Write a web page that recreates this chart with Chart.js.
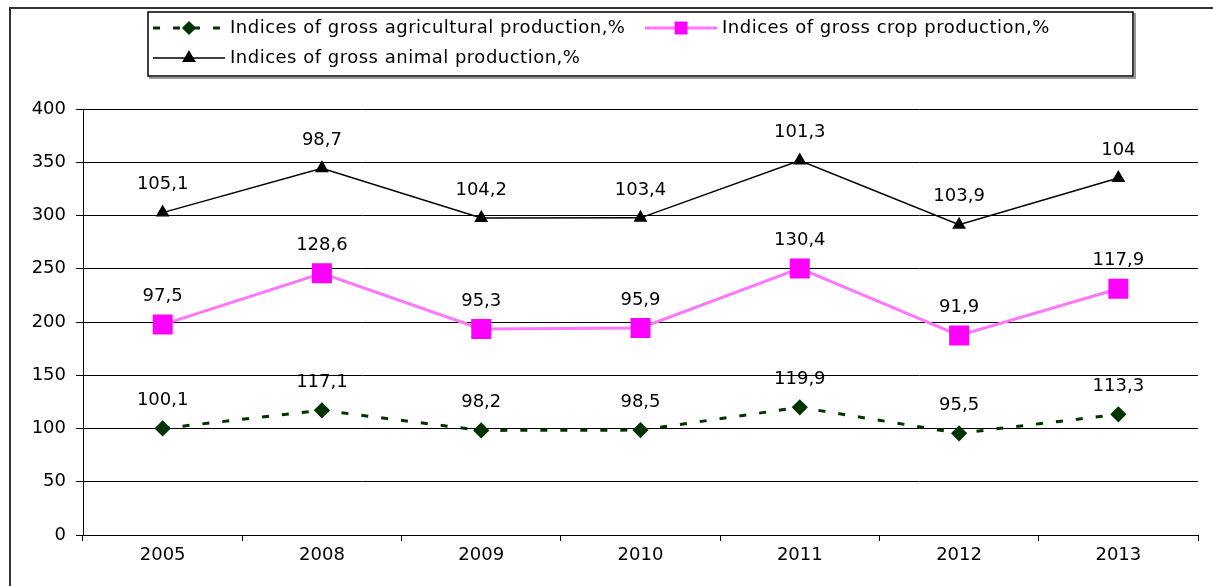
<!DOCTYPE html>
<html>
<head>
  <title>Indices of gross production</title>
  <script src="https://cdn.jsdelivr.net/npm/chart.js"></script>
  <style>
    body { margin: 0; background: #fff; }
  </style>
</head>
<body>
  <canvas id="prodChart" width="1213" height="586"></canvas>

  <script>
    // years on the x axis
    const years = ['2005', '2008', '2009', '2010', '2011', '2012', '2013'];

    // indices, % (the chart stacks them)
    const agricultural = [100.1, 117.1, 98.2, 98.5, 119.9, 95.5, 113.3];
    const crop = [97.5, 128.6, 95.3, 95.9, 130.4, 91.9, 117.9];
    const animal = [105.1, 98.7, 104.2, 103.4, 101.3, 103.9, 104];

    const yTicks = [0, 50, 100, 150, 200, 250, 300, 350, 400];

    const FONT = '"DejaVu Sans", sans-serif';

    // frame round the whole picture
    const framePlugin = {
      id: 'frame',
      beforeDraw(chart) {
        const c = chart.ctx;
        c.save();
        c.strokeStyle = '#333';
        c.lineWidth = 2;
        c.beginPath();
        c.moveTo(10, 586);
        c.lineTo(10, 8);
        c.lineTo(1213, 8);
        c.stroke();
        c.restore();
      }
    };

    // value labels above each point, with a decimal comma
    const valueLabels = {
      id: 'valueLabels',
      afterDatasetsDraw(chart) {
        const c = chart.ctx;
        c.save();
        c.font = '18px ' + FONT;
        c.fillStyle = '#000';
        c.textAlign = 'center';
        c.textBaseline = 'middle';
        chart.data.datasets.forEach((ds, i) => {
          chart.getDatasetMeta(i).data.forEach((pt, j) => {
            c.fillText(String(ds.data[j]).replace('.', ','), pt.x, pt.y - 28);
          });
        });
        c.restore();
      }
    };

    // legend box like the original (two rows)
    const legendMarks = [6, 8, 6.5];
    const boxLegend = {
      id: 'boxLegend',
      afterDraw(chart) {
        const c = chart.ctx;
        c.save();
        // shadow then box
        c.strokeStyle = '#999';
        c.lineWidth = 2;
        c.strokeRect(150, 14, 985, 64);
        c.fillStyle = '#fff';
        c.fillRect(148, 12, 985, 64);
        c.strokeStyle = '#000';
        c.lineWidth = 1.5;
        c.strokeRect(148, 12, 985, 64);

        const slots = [[153, 28], [645, 28], [153, 58]];
        chart.data.datasets.forEach((ds, i) => {
          const [x, y] = slots[i];
          c.save();
          c.strokeStyle = ds.borderColor;
          c.lineWidth = ds.borderWidth;
          c.setLineDash(ds.borderDash || []);
          c.beginPath();
          c.moveTo(x, y);
          c.lineTo(x + 72, y);
          c.stroke();
          c.restore();
          c.fillStyle = ds.pointBackgroundColor;
          c.strokeStyle = ds.pointBorderColor;
          Chart.helpers.drawPoint(c, {
            pointStyle: ds.pointStyle,
            radius: legendMarks[i],
            borderWidth: 1
          }, x + 36, y);
          c.font = '18px ' + FONT;
          c.letterSpacing = '0.5px';
          c.fillStyle = '#000';
          c.textAlign = 'left';
          c.textBaseline = 'middle';
          c.fillText(ds.label, x + 77, y);
          c.letterSpacing = '0px';
        });
        c.restore();
      }
    };

    const ctx = document.getElementById('prodChart').getContext('2d');

    new Chart(ctx, {
      type: 'line',
      data: {
        labels: years,
        datasets: [
          {
            label: 'Indices of gross agricultural production,%',
            data: agricultural,
            borderColor: '#003300',
            borderWidth: 3,
            borderDash: [7, 13],
            pointStyle: 'rectRot',
            pointRadius: 6,
            pointBackgroundColor: '#003300',
            pointBorderColor: '#003300',
            fill: false,
            tension: 0
          },
          {
            label: 'Indices of gross crop production,%',
            data: crop,
            borderColor: '#ff77ff',
            borderWidth: 3,
            pointStyle: 'rect',
            pointRadius: 12,
            pointBackgroundColor: '#ff00ff',
            pointBorderColor: '#ff00ff',
            fill: false,
            tension: 0
          },
          {
            label: 'Indices of gross animal production,%',
            data: animal,
            borderColor: '#000',
            borderWidth: 1.5,
            pointStyle: 'triangle',
            pointRadius: 6.5,
            pointBackgroundColor: '#000',
            pointBorderColor: '#000',
            fill: false,
            tension: 0
          }
        ]
      },
      options: {
        responsive: false,
        animation: false,
        layout: { padding: { top: 109, right: 15, left: 10, bottom: 0 } },
        plugins: {
          legend: { display: false },
          tooltip: { enabled: false }
        },
        scales: {
          x: {
            offset: true,
            grid: {
              offset: true,
              drawOnChartArea: false,
              color: '#000',
              tickLength: 6
            },
            border: { display: true, color: '#000' },
            ticks: {
              color: '#000',
              padding: 4,
              font: { family: FONT, size: 18 }
            },
            afterFit(scale) { scale.height = 51; }
          },
          y: {
            stacked: true,
            min: 0,
            max: 400,
            afterBuildTicks(scale) {
              scale.ticks = yTicks.map(v => ({ value: v }));
            },
            grid: { color: '#000', tickLength: 7 },
            border: { display: true, color: '#000' },
            ticks: {
              color: '#000',
              padding: 10,
              font: { family: FONT, size: 18 }
            },
            afterFit(scale) { scale.width = 73; }
          }
        }
      },
      plugins: [framePlugin, valueLabels, boxLegend]
    });
  </script>
</body>
</html>
